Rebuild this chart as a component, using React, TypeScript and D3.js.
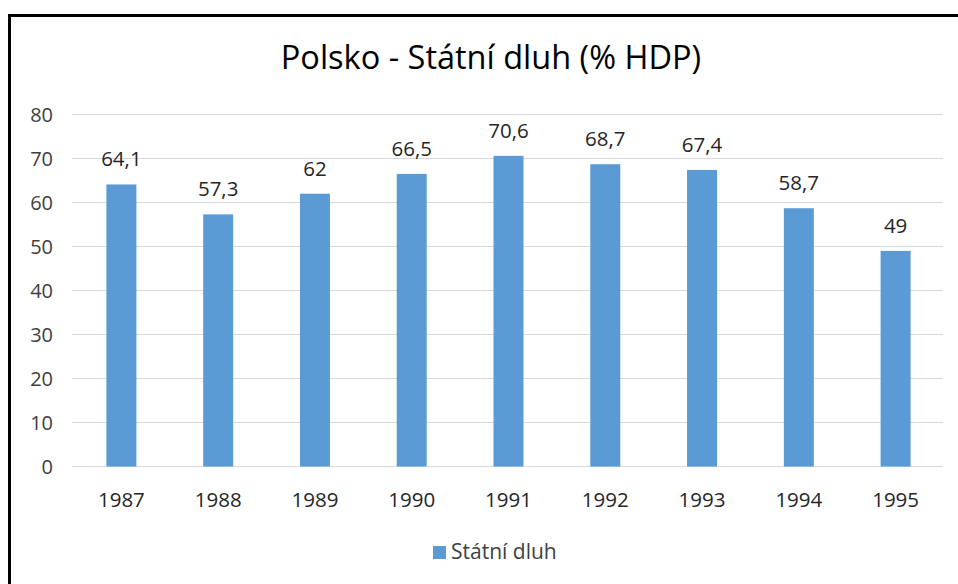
import React from "react";
import * as d3 from "d3";

const years = ["1987", "1988", "1989", "1990", "1991", "1992", "1993", "1994", "1995"];
const debt = [64.1, 57.3, 62, 66.5, 70.6, 68.7, 67.4, 58.7, 49];
const yTicks = [0, 10, 20, 30, 40, 50, 60, 70, 80];
const title = "Polsko - Státní dluh (% HDP)";
const seriesName = "Státní dluh";

const W = 958;
const H = 584;
const FONT = "'Open Sans', 'Noto Sans', sans-serif";
const BAR = "#5B9BD5";

export default function App() {
  const x = d3.scaleBand<string>().domain(years).range([73, 944]).paddingInner(0.69).paddingOuter(0.345);
  const y = d3.scaleLinear().domain([0, 80]).range([466.5, 114.5]);
  const fmt = (v: number) => String(v).replace(".", ",");

  return (
    <svg
      width={W}
      height={H}
      style={{ position: "fixed", left: 0, top: 0, background: "#fff" }}
      fontFamily={FONT}
    >
      <rect x={0} y={0} width={W} height={H} fill="#fff" />
      <rect x={9.5} y={15.5} width={1000} height={1000} fill="none" stroke="#000" strokeWidth={3} />
      <text x={491} y={69} textAnchor="middle" fontSize={32.5} fill="#000">
        {title}
      </text>
      {yTicks.map((t) => (
        <g key={t}>
          <line x1={72} x2={943} y1={y(t)} y2={y(t)} stroke="#d9d9d9" strokeWidth={1} />
          <text x={53} y={y(t)} dy="0.35em" textAnchor="end" fontSize={20} fill="#404040">
            {t}
          </text>
        </g>
      ))}
      {years.map((yr, i) => (
        <g key={yr}>
          <rect x={x(yr)} y={y(debt[i])} width={x.bandwidth()} height={y(0) - y(debt[i])} fill={BAR} />
          <text
            x={(x(yr) as number) + x.bandwidth() / 2}
            y={y(debt[i]) - 18}
            textAnchor="middle"
            fontSize={20.5}
            fill="#262626"
          >
            {fmt(debt[i])}
          </text>
          <text
            x={(x(yr) as number) + x.bandwidth() / 2}
            y={507}
            textAnchor="middle"
            fontSize={20.5}
            fill="#262626"
          >
            {yr}
          </text>
        </g>
      ))}
      <rect x={433} y={546} width={13} height={13} fill={BAR} />
      <text x={451} y={559} fontSize={21} fill="#404040">
        {seriesName}
      </text>
    </svg>
  );
}
